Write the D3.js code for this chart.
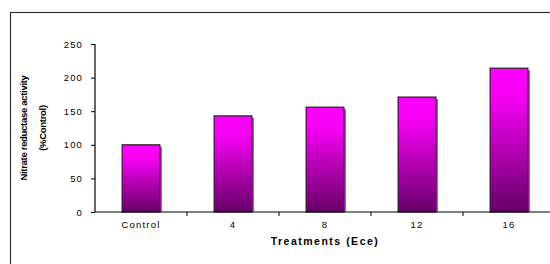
<!DOCTYPE html>
<html>
<head>
<meta charset="utf-8">
<script src="https://cdn.jsdelivr.net/npm/d3@7"></script>
<style>
  body { margin: 0; background: #fff; }
  text { font-family: "Liberation Sans", Arial, sans-serif; }
</style>
</head>
<body>
<div id="chart"></div>
<script>
// data
var categories = ["Control", "4", "8", "12", "16"];
var values = [100, 143, 156, 171, 214];
var yTicks = [0, 50, 100, 150, 200, 250];

nitrate();

function nitrate() {
  var svg = d3.select("#chart")
              .append("svg")
              .attr("width", 550)
              .attr("height", 264);

  // outer frame
  svg.append("rect")
      .attr("x", 10.5).attr("y", 12.5)
      .attr("width", 560).attr("height", 270)
      .attr("fill", "none")
      .attr("stroke", "#333")
      .attr("stroke-width", 1.2);

  var margin = {top: 44, left: 95},
      width = 460,
      height = 168;

  var x = d3.scaleBand().domain(categories).range([0, width]).paddingInner(0.59).paddingOuter(0.295),
      y = d3.scaleLinear().domain([0, 250]).range([height, 0]);

  var g = svg.append("g")
      .attr("transform", "translate(" + margin.left + "," + margin.top + ")");

  // gradient for the bars
  var grad = svg.append("defs").append("linearGradient")
      .attr("id", "barfill")
      .attr("x1", 0).attr("y1", 0).attr("x2", 0).attr("y2", 1);
  grad.append("stop").attr("offset", "0%").attr("stop-color", "#ff00ff");
  grad.append("stop").attr("offset", "20%").attr("stop-color", "#f600f4");
  grad.append("stop").attr("offset", "100%").attr("stop-color", "#660066");

  // bars: magenta shadow then the main bar
  g.selectAll(".shadow")
    .data(values)
    .enter().append("rect")
      .attr("class", "shadow")
      .attr("x", function(d, i) { return x(categories[i]) + 2; })
      .attr("y", function(d) { return y(d) + 2; })
      .attr("width", x.bandwidth())
      .attr("height", function(d) { return height - y(d) - 2; })
      .attr("fill", "#ff00ff");

  g.selectAll(".bar")
    .data(values)
    .enter().append("rect")
      .attr("class", "bar")
      .attr("x", function(d, i) { return x(categories[i]); })
      .attr("y", function(d) { return y(d); })
      .attr("width", x.bandwidth())
      .attr("height", function(d) { return height - y(d); })
      .attr("fill", "url(#barfill)")
      .attr("stroke", "#222")
      .attr("stroke-width", 1.2);

  // y axis
  var yAxis = g.append("g")
      .attr("class", "axis axis--y")
      .call(d3.axisLeft(y).tickValues(yTicks).tickSize(4).tickPadding(8));
  yAxis.select(".domain").attr("stroke", "#000").attr("stroke-width", 1.2).attr("d", "M0,0V" + height);
  yAxis.selectAll(".tick line").attr("stroke", "#000");
  yAxis.selectAll("text")
      .attr("font-size", 9.5)
      .attr("letter-spacing", "1.1px")
      .attr("fill", "#000");

  // x axis
  var xAxis = g.append("g")
      .attr("class", "axis axis--x")
      .attr("transform", "translate(0," + height + ")")
      .call(d3.axisBottom(x).tickSize(0).tickPadding(9));
  xAxis.select(".domain").attr("stroke", "#000").attr("stroke-width", 1.2).attr("d", "M0,0H" + width);
  xAxis.selectAll("text")
      .attr("font-size", 9.5)
      .attr("letter-spacing", "1.2px")
      .attr("fill", "#000");

  // boundary tick marks between categories
  g.selectAll(".sep")
    .data(categories.slice(1))
    .enter().append("line")
      .attr("class", "sep")
      .attr("x1", function(d) { return x(d) - x.step() * x.paddingInner() / 2; })
      .attr("x2", function(d) { return x(d) - x.step() * x.paddingInner() / 2; })
      .attr("y1", height)
      .attr("y2", height + 4)
      .attr("stroke", "#000");

  // axis titles
  svg.append("text")
      .attr("text-anchor", "middle")
      .attr("x", 325).attr("y", 245)
      .attr("font-size", 10.5)
      .attr("font-weight", "bold")
      .attr("letter-spacing", "1.5px")
      .text("Treatments (Ece)");

  var yl = svg.append("text")
      .attr("text-anchor", "middle")
      .attr("transform", "translate(27,128)rotate(-90)")
      .attr("font-size", 9.5)
      .attr("font-weight", "bold")
      .attr("letter-spacing", "-0.3px");
  yl.append("tspan").attr("x", 0).attr("dy", 0).text("Nitrate reductase activity");
  yl.append("tspan").attr("x", 0).attr("dy", 19).text("(%Control)");
}
</script>
</body>
</html>
